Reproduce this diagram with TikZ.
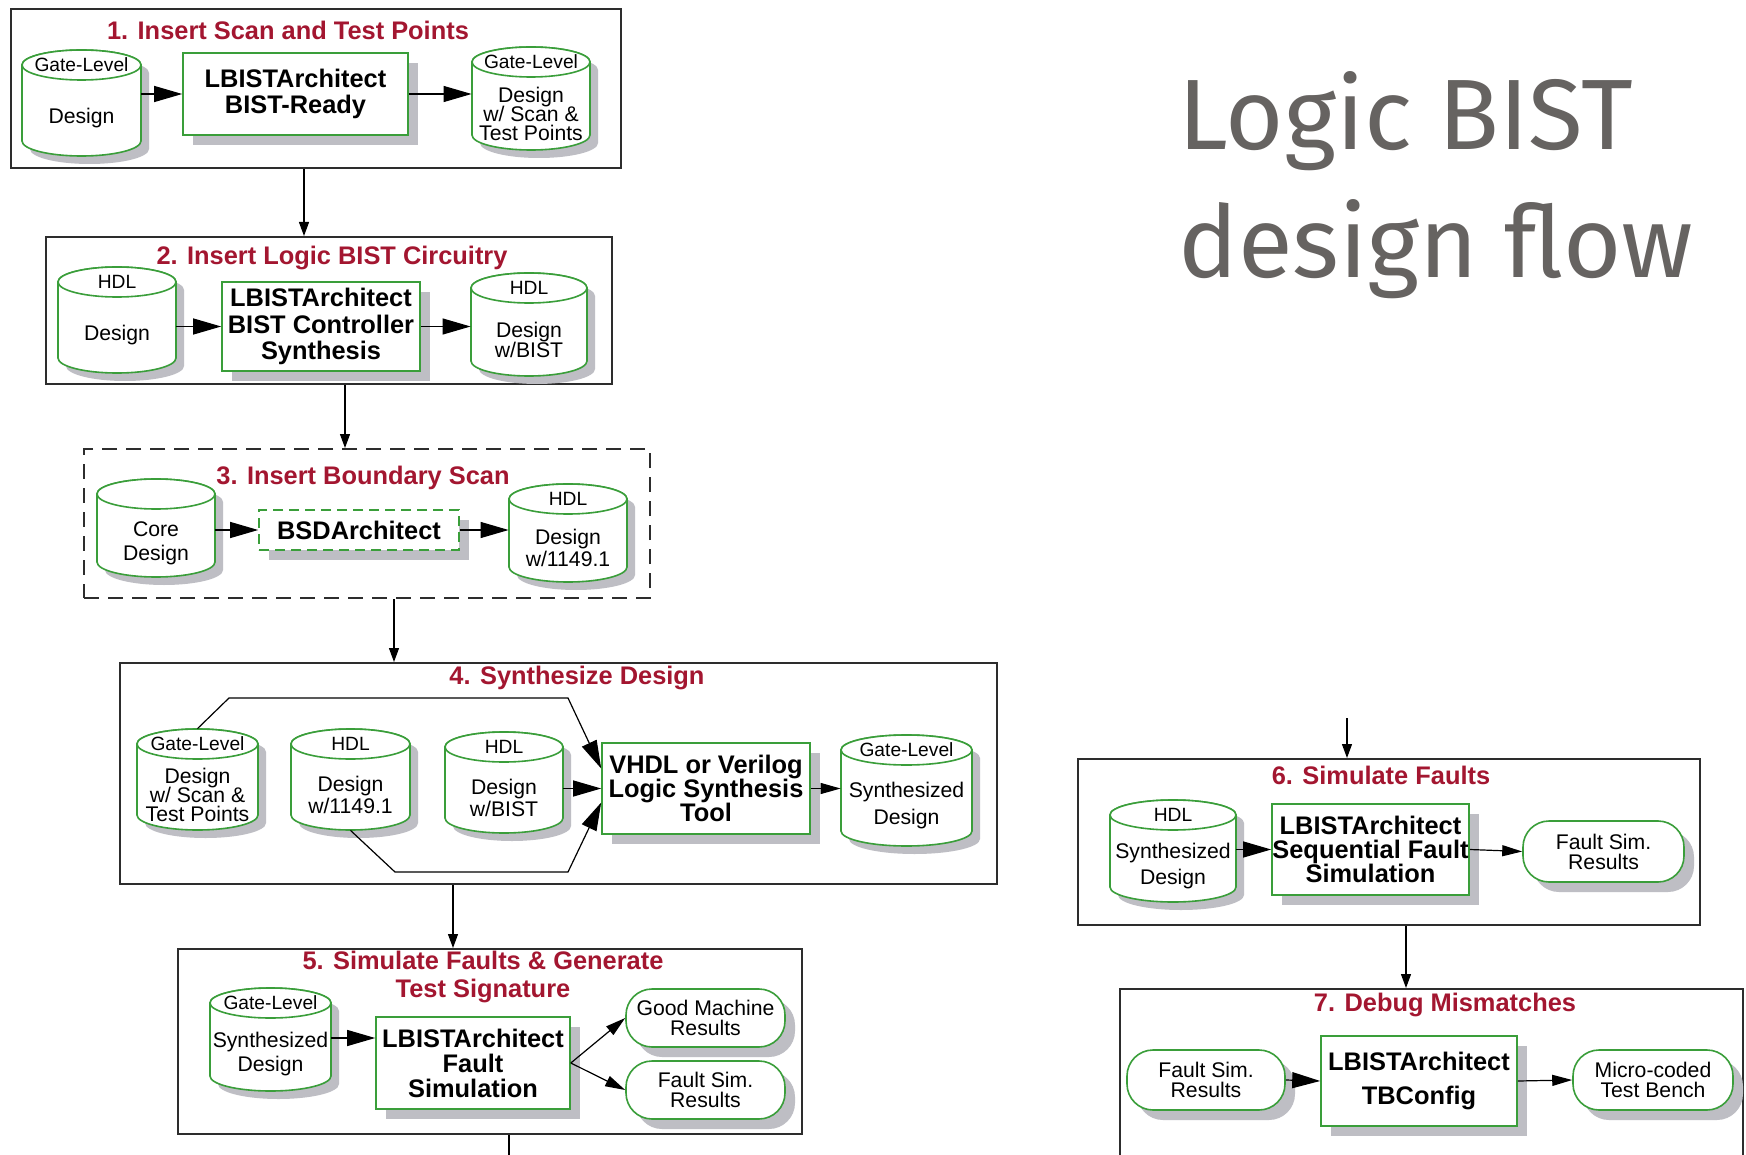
\documentclass[tikz,border=0pt]{standalone}
\usepackage{fontspec}
\setmainfont{Liberation Sans}
\newfontfamily\bigfont{Fira Sans}
\usetikzlibrary{arrows.meta,shadows}

\definecolor{titlered}{RGB}{163,22,48}
\definecolor{flowgreen}{RGB}{58,158,58}
\definecolor{shadowgray}{RGB}{190,190,196}
\definecolor{framegray}{RGB}{45,45,45}
\definecolor{headgray}{RGB}{102,99,97}

\tikzset{
  boxsize/.style 2 args={minimum width={(#1)*0.5pt}, minimum height={(#2)*0.5pt}},
  stage/.style={draw=framegray, line width=1pt, inner sep=0pt},
  stagetitle/.style={text=titlered, font=\fontsize{12.7}{14}\selectfont\bfseries, inner sep=0pt, align=center},
  bigtitle/.style={text=headgray, font=\bigfont\fontsize{50}{60}\selectfont, inner sep=0pt},
  tool/.style={draw=flowgreen, line width=0.8pt, fill=white, inner sep=0pt, align=center,
    font=\fontsize{12.7}{13.4}\selectfont\bfseries,
    drop shadow={shadow xshift=5pt, shadow yshift=-5pt, fill=shadowgray, opacity=1}},
  result/.style={tool, rounded corners=13pt, font=\fontsize{10.6}{10}\selectfont},
  canline/.style={draw=flowgreen, line width=0.8pt, fill=white},
  canshadow/.style={fill=shadowgray},
  cancap/.style={font=\fontsize{9.6}{10}\selectfont, inner sep=0pt},
  canbody/.style={font=\fontsize{10.6}{11}\selectfont, inner sep=0pt, align=center},
  bigfeed/.style={line width=0.6pt, -{Triangle[length=14pt,width=8pt]}},
  feed/.style={line width=0.6pt, -{Triangle[length=10pt,width=5.5pt]}},
  stageflow/.style={line width=0.6pt, -{Triangle[length=7pt,width=5pt]}},
}

% data can: name, left, top, right, bottom, cap text, body text
\newcommand{\datacan}[7]{%
  \pgfmathsetmacro{\canmid}{(#2+#4)/2}%
  \pgfmathsetmacro{\canrad}{(#4-#2)/2}%
  \fill[canshadow, xshift=4pt, yshift=-4pt] (#2,-#3-15) -- (#2,-#5+15)
    arc[start angle=180, end angle=360, x radius=\canrad, y radius=15] -- (#4,-#3-15)
    arc[start angle=0, end angle=180, x radius=\canrad, y radius=15] -- cycle;
  \filldraw[canline] (#2,-#3-15) -- (#2,-#5+15)
    arc[start angle=180, end angle=360, x radius=\canrad, y radius=15] -- (#4,-#3-15)
    arc[start angle=0, end angle=180, x radius=\canrad, y radius=15] -- cycle;
  \draw[canline] (\canmid,-#3-15) ellipse [x radius=\canrad, y radius=15];
  \node[cancap] (#1-cap) at (\canmid,-#3-15) {#6};
  \node[canbody] (#1-txt) at (\canmid,{-(#3+#5+30)/2}) {#7};
  \node[inner sep=0pt, boxsize={#4-#2}{#5-#3}] (#1) at (\canmid,{-(#3+#5)/2}) {};
}

\begin{document}
\begin{tikzpicture}[x=0.5pt, y=0.5pt]
  \fill[white] (0,0) rectangle (1746,-1155);
  \useasboundingbox (0,0) rectangle (1746,-1155);

  % heading
  \node[bigtitle, anchor=base west] (head1) at (1178,-150) {Logic BIST};
  \node[bigtitle, anchor=base west] (head2) at (1178,-278) {design flow};

  % stage frames
  \node[stage, boxsize={610}{159}] (s1) at (316,-88.5) {};
  \node[stage, boxsize={566}{147}] (s2) at (329,-310.5) {};
  \node[stage, dash pattern=on 7.5pt off 4.5pt, boxsize={566}{149}] (s3) at (367,-523.5) {};
  \node[stage, boxsize={877}{221}] (s4) at (558.5,-773.5) {};
  \node[stage, boxsize={624}{185}] (s5) at (490,-1041.5) {};
  \node[stage, boxsize={622}{166}] (s6) at (1389,-842) {};
  \node[stage, boxsize={623}{200}] (s7) at (1431.5,-1089) {};

  % 1. scan insertion
  \node[stagetitle] (t1) at (288,-30) {1. Insert Scan and Test Points};
  \datacan{c1}{22}{50}{141}{156}{Gate-Level}{Design}
  \node[tool, boxsize={225}{82}] (b1) at (295.5,-94) {LBISTArchitect\\BIST-Ready};
  \datacan{c1o}{472}{47}{590}{150}{Gate-Level}{Design\\[-1.5pt]w/ Scan \&\\[-1.5pt]Test Points}
  \draw[bigfeed] (c1.east |- b1.west) -- (b1.west);
  \draw[bigfeed] (b1.east) -- (c1o.west |- b1.east);

  % 2. bist circuitry
  \node[stagetitle] (t2) at (332,-258) {2. Insert Logic BIST Circuitry};
  \datacan{c2}{58}{267}{176}{373}{HDL}{Design}
  \node[tool, boxsize={198}{89}] (b2) at (321,-326.5) {LBISTArchitect\\BIST Controller\\Synthesis};
  \datacan{c2o}{471}{273}{587}{376}{HDL}{Design\\[-1pt]w/BIST}
  \draw[bigfeed] (c2.east |- b2.west) -- (b2.west);
  \draw[bigfeed] (b2.east) -- (c2o.west |- b2.east);

  % 3. boundary scan
  \node[stagetitle] (t3) at (363,-478) {3. Insert Boundary Scan};
  \datacan{c3}{97}{479}{215}{577}{}{Core\\[1pt]Design}
  \node[tool, dash pattern=on 5pt off 3pt, boxsize={200}{40}] (b3) at (359,-530) {BSDArchitect};
  \datacan{c3o}{509}{484}{627}{582}{HDL}{Design\\w/1149.1}
  \draw[bigfeed] (c3.east |- b3.west) -- (b3.west);
  \draw[bigfeed] (b3.east) -- (c3o.west |- b3.east);

  % 4. synthesis
  \node[stagetitle] (t4) at (577,-678) {4. Synthesize Design};
  \datacan{c4a}{137}{729}{258}{830}{Gate-Level}{Design\\[-1.5pt]w/ Scan \&\\[-1.5pt]Test Points}
  \datacan{c4b}{291}{729}{410}{830}{HDL}{Design\\w/1149.1}
  \datacan{c4c}{445}{732}{563}{833}{HDL}{Design\\w/BIST}
  \node[tool, font=\fontsize{12.7}{12}\selectfont\bfseries, boxsize={208}{91}] (b4) at (706,-788.5) {VHDL or Verilog\\Logic Synthesis\\Tool};
  \datacan{c4o}{841}{735}{972}{846}{Gate-Level}{Synthesized\\[2.5pt]Design}
  \draw[bigfeed] (c4a.north) -- (229,-698) -- (568,-698) -- ([yshift=10pt]b4.west);
  \draw[bigfeed] (c4b.south) -- (395,-872) -- (568,-872) -- ([yshift=-7pt]b4.west);
  \draw[bigfeed] (c4c.east |- b4.west) -- (b4.west);
  \draw[feed] (b4.east) -- (c4o.west |- b4.east);

  % 5. fault simulation
  \node[stagetitle] (t5) at (483,-977) {5. Simulate Faults \& Generate\\Test Signature};
  \datacan{c5}{210}{988}{331}{1091}{Gate-Level}{Synthesized\\[1pt]Design}
  \node[tool, font=\fontsize{12.7}{12.5}\selectfont\bfseries, boxsize={194}{92}] (b5) at (473,-1063) {LBISTArchitect\\Fault\\Simulation};
  \node[result, boxsize={159}{58}] (r5a) at (705.5,-1018) {Good Machine\\Results};
  \node[result, boxsize={159}{58}] (r5b) at (705.5,-1090) {Fault Sim.\\Results};
  \coordinate (in5) at ([yshift=12.5pt]b5.west);
  \draw[bigfeed] (in5 -| c5.east) -- (in5);
  \draw[feed] (b5.east) -- (r5a.west);
  \draw[feed] (b5.east) -- (r5b.west);
  \coordinate (out5) at (509,-1165);
  \draw[line width=0.6pt] (out5 |- s5.south) -- (out5);

  % stage to stage
  \coordinate (d12) at ([xshift=-6pt]s1.south);
  \coordinate (d23) at ([xshift=8pt]s2.south);
  \coordinate (d34) at ([xshift=13.5pt]s3.south);
  \coordinate (d45) at ([xshift=-52.75pt]s4.south);
  \draw[stageflow] (d12) -- (d12 |- s2.north);
  \draw[stageflow] (d23) -- (d23 |- s3.north);
  \draw[stageflow] (d34) -- (d34 |- s4.north);
  \draw[stageflow] (d45) -- (d45 |- s5.north);

  % 6. sequential fault simulation
  \coordinate (in6) at (1347,-718);
  \draw[stageflow] (in6) -- (in6 |- s6.north);
  \node[stagetitle] (t6) at (1381,-775) {6. Simulate Faults};
  \datacan{c6}{1110}{800}{1236}{902}{HDL}{Synthesized\\[2pt]Design}
  \node[tool, font=\fontsize{12.7}{12}\selectfont\bfseries, boxsize={197}{91}] (b6) at (1370.5,-849.5) {LBISTArchitect\\Sequential Fault\\Simulation};
  \node[result, boxsize={161}{61}] (r6) at (1603.5,-851.5) {Fault Sim.\\Results};
  \draw[bigfeed] (c6.east |- b6.west) -- (b6.west);
  \draw[feed] (b6.east) -- (r6.west);
  \coordinate (d67) at ([xshift=8.5pt]s6.south);
  \draw[stageflow] (d67) -- (d67 |- s7.north);

  % 7. mismatch debugging
  \node[stagetitle] (t7) at (1445,-1005) {7. Debug Mismatches};
  \node[result, boxsize={158}{60}] (r7a) at (1206,-1080) {Fault Sim.\\Results};
  \node[tool, boxsize={196}{90}] (b7) at (1419,-1081) {LBISTArchitect\\[4pt]TBConfig};
  \node[result, boxsize={160}{60}] (r7b) at (1653,-1080) {Micro-coded\\Test Bench};
  \draw[bigfeed] (r7a.east) -- (b7.west);
  \draw[feed] (b7.east) -- (r7b.west);
\end{tikzpicture}
\end{document}
